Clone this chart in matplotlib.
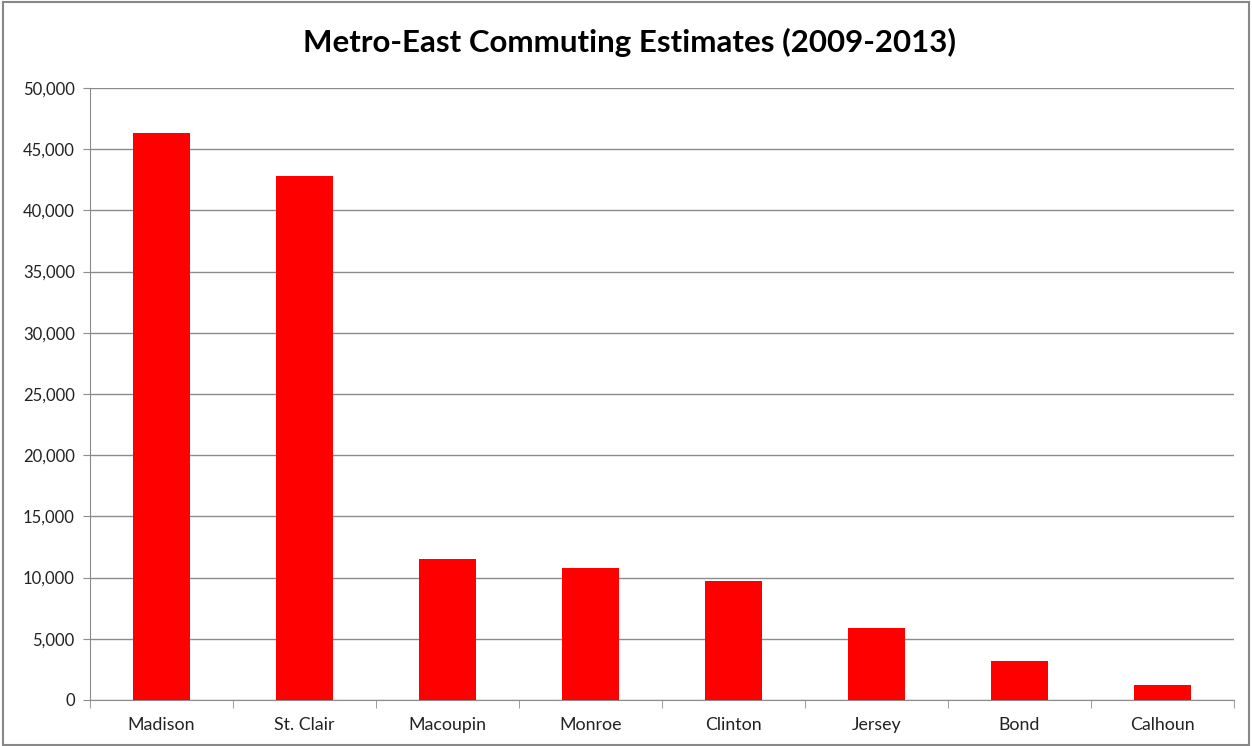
import matplotlib.pyplot as plt
import matplotlib.ticker as mticker
from matplotlib.patches import Rectangle
import numpy as np

counties = ["Madison", "St. Clair", "Macoupin", "Monroe", "Clinton", "Jersey", "Bond", "Calhoun"]
commuters = [46300, 42800, 11550, 10800, 9700, 5870, 3200, 1200]
y_ticks = [0, 5000, 10000, 15000, 20000, 25000, 30000, 35000, 40000, 45000, 50000]

plt.rcParams["font.family"] = ["Lato", "DejaVu Sans"]

fig = plt.figure(figsize=(12.52, 7.46), dpi=100)
ax = fig.add_axes([0.0719, 0.0617, 0.9137, 0.8203])

x = np.arange(len(counties))
ax.bar(x, commuters, width=0.4, color="#ff0000", zorder=3)

# y axis
ax.set_ylim(0, 50000)
ax.set_yticks(y_ticks)
ax.yaxis.set_major_formatter(mticker.FuncFormatter(lambda v, p: f"{int(v):,}"))
ax.grid(axis="y", color="#8c8c8c", linewidth=1, zorder=0)
ax.tick_params(axis="y", length=5, color="#8c8c8c", labelsize=12, labelcolor="#222222", pad=6)

# x axis: labels at category centres, ticks between categories
ax.set_xlim(-0.5, len(counties) - 0.5)
ax.set_xticks(x)
ax.set_xticklabels(counties)
ax.set_xticks(np.arange(-0.5, len(counties)), minor=True)
ax.tick_params(axis="x", which="major", length=0, labelsize=12.8, labelcolor="#222222", pad=12)
ax.tick_params(axis="x", which="minor", length=6, color="#8c8c8c")

for side in ["top", "right"]:
    ax.spines[side].set_visible(False)
ax.spines["left"].set_color("#8c8c8c")
ax.spines["bottom"].set_color("#8c8c8c")

fig.text(0.503, 0.943, "Metro-East Commuting Estimates (2009-2013)",
         ha="center", va="center", fontsize=22.5, fontweight="bold", color="black")

# outer chart border
fig.patches.append(Rectangle((0.002, 0.002), 0.996, 0.995, transform=fig.transFigure,
                             fill=False, edgecolor="#888888", linewidth=1.5))

fig.savefig("out.png", dpi=100)
